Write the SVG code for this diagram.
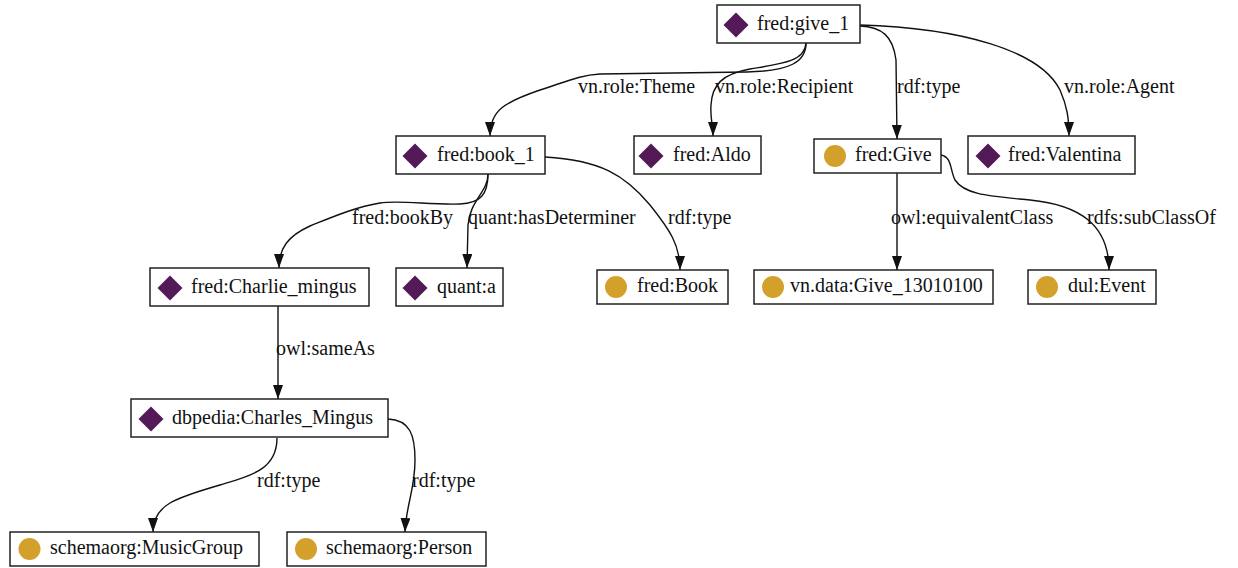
<svg xmlns="http://www.w3.org/2000/svg" width="1238" height="568" viewBox="0 0 1238 568">
<defs>
<style>
.box{fill:#fff;stroke:#222;stroke-width:1.5}
.dia{fill:#541a57}
.cir{fill:#d3a12b}
text{font-family:"Liberation Serif","Times New Roman",serif;font-size:20px;fill:#111}
.edge{fill:none;stroke:#111;stroke-width:1.4;marker-end:url(#arr)}
</style>
<marker id="arr" markerUnits="userSpaceOnUse" markerWidth="14" markerHeight="10" refX="14" refY="5" orient="auto">
<path d="M0,0 L14,5 L0,10 z" fill="#111"/>
</marker>
<path id="d" d="M0,-12.5 L12.5,0 L0,12.5 L-12.5,0 z"/>
</defs>
<rect width="1238" height="568" fill="#fff"/>
<g id="connectors">
<path class="edge" d="M806,43 C806,62 790,71 747,72 L600,74 C580,75 565,82 540,90 C505,102 490,110 490,136"/>
<path class="edge" d="M806,43 C805,62 780,64 750,69 C722,74 712,85 711,105 C710,118 713,125 713,136"/>
<path class="edge" d="M860,26 C882,27 893,36 896,60 L897,139"/>
<path class="edge" d="M860,25 C960,28 1040,50 1060,90 C1067,106 1069,118 1069,136"/>
<path class="edge" d="M488,174 C488,195 480,203 460,204 C430,205 400,200 380,203 C355,207 330,218 310,226 C288,236 279,248 279,268"/>
<path class="edge" d="M488,174 C488,192 470,200 468,225 L467,268"/>
<path class="edge" d="M545,157 C600,160 625,175 650,205 C670,230 680,245 680,270"/>
<path class="edge" d="M897,173 L897,270"/>
<path class="edge" d="M941,155 C952,157 950,170 955,180 C965,195 990,196 1030,200 C1080,205 1109,225 1109,270"/>
<path class="edge" d="M278,306 L278,399"/>
<path class="edge" d="M277,438 C277,470 250,476 220,485 C175,498 153,505 153,532"/>
<path class="edge" d="M388,419 C410,420 415,435 415,460 C415,490 406,505 405,532"/>
<text x="578" y="93">vn.role:Theme</text>
<text x="715" y="93">vn.role:Recipient</text>
<text x="897" y="93">rdf:type</text>
<text x="1064" y="93">vn.role:Agent</text>
<text x="352" y="224">fred:bookBy</text>
<text x="468" y="224">quant:hasDeterminer</text>
<text x="668" y="224">rdf:type</text>
<text x="891" y="224">owl:equivalentClass</text>
<text x="1087" y="224">rdfs:subClassOf</text>
<text x="276" y="355">owl:sameAs</text>
<text x="257" y="487">rdf:type</text>
<text x="412" y="487">rdf:type</text>
</g>
<g id="node-give_1"><rect class="box" x="717" y="5" width="143" height="38"/><use href="#d" class="dia" x="736" y="25"/><text x="757" y="30">fred:give_1</text></g>
<g id="node-book_1"><rect class="box" x="396" y="136" width="149" height="38"/><use href="#d" class="dia" x="415" y="156"/><text x="437" y="161">fred:book_1</text></g>
<g id="node-Aldo"><rect class="box" x="634" y="136" width="127" height="38"/><use href="#d" class="dia" x="651" y="156"/><text x="673" y="161">fred:Aldo</text></g>
<g id="node-Give"><rect class="box" x="814" y="139" width="127" height="34"/><circle class="cir" cx="835" cy="156" r="11"/><text x="855" y="161">fred:Give</text></g>
<g id="node-Valentina"><rect class="box" x="968" y="136" width="167" height="38"/><use href="#d" class="dia" x="988" y="156"/><text x="1008" y="161">fred:Valentina</text></g>
<g id="node-Charlie_mingus"><rect class="box" x="150" y="268" width="219" height="38"/><use href="#d" class="dia" x="170" y="288"/><text x="191" y="293">fred:Charlie_mingus</text></g>
<g id="node-quant_a"><rect class="box" x="396" y="268" width="107" height="38"/><use href="#d" class="dia" x="415" y="288"/><text x="437" y="293">quant:a</text></g>
<g id="node-Book"><rect class="box" x="597" y="270" width="131" height="34"/><circle class="cir" cx="616" cy="287" r="11"/><text x="637" y="292">fred:Book</text></g>
<g id="node-Give_13010100"><rect class="box" x="754" y="270" width="239" height="34"/><circle class="cir" cx="773" cy="287" r="11"/><text x="790" y="292">vn.data:Give_13010100</text></g>
<g id="node-Event"><rect class="box" x="1028" y="270" width="128" height="34"/><circle class="cir" cx="1047" cy="287" r="11"/><text x="1068" y="292">dul:Event</text></g>
<g id="node-Charles_Mingus"><rect class="box" x="131" y="399" width="257" height="38"/><use href="#d" class="dia" x="151" y="419"/><text x="172" y="424">dbpedia:Charles_Mingus</text></g>
<g id="node-MusicGroup"><rect class="box" x="10" y="532" width="249" height="34"/><circle class="cir" cx="29.5" cy="549" r="11"/><text x="50" y="554">schemaorg:MusicGroup</text></g>
<g id="node-Person"><rect class="box" x="287" y="532" width="199" height="34"/><circle class="cir" cx="306" cy="549" r="11"/><text x="326" y="554">schemaorg:Person</text></g>
</svg>
